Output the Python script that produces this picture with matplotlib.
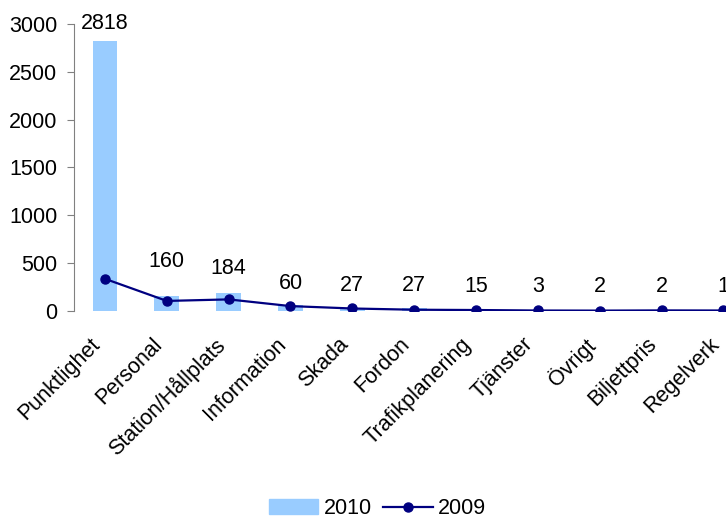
import numpy as np
import matplotlib.pyplot as plt
import matplotlib.transforms as mtransforms
from matplotlib.lines import Line2D
from matplotlib.patches import Patch

plt.rcParams['font.family'] = ['Liberation Sans', 'DejaVu Sans']

categories = ['Punktlighet', 'Personal', 'Station/Hållplats', 'Information', 'Skada',
              'Fordon', 'Trafikplanering', 'Tjänster', 'Övrigt', 'Biljettpris', 'Regelverk']
values_2010 = [2818, 160, 184, 60, 27, 27, 15, 3, 2, 2, 1]
values_2009 = [335, 104, 120, 50, 25, 12, 9, 4, 3, 5, 4]
# extra lift (pixels) for each value label above its bar
label_lift = [18, 34, 25, 22, 23, 23, 23, 24, 24, 24, 24]

bar_color = '#99CCFF'
line_color = '#000080'
fs = 15.5

fig = plt.figure(figsize=(7.26, 5.19), dpi=100)
ax = fig.add_axes([0.102, 0.401, 0.937, 0.553])
x = np.arange(len(categories))

ax.bar(x, values_2010, width=0.4, color=bar_color, zorder=1)
ax.plot(x, values_2009, color=line_color, lw=1.6, marker='o', ms=6.5, zorder=3)

for xi, v, lift in zip(x, values_2010, label_lift):
    ax.annotate(str(v), (xi, v), xytext=(0, lift * 0.72), textcoords='offset points',
                ha='center', va='center', fontsize=fs, annotation_clip=False)

ax.set_xlim(-0.5, len(categories) - 0.5)
ax.set_ylim(0, 3000)
ax.set_yticks(np.arange(0, 3001, 500))
ax.tick_params(axis='y', labelsize=fs, length=5, color='#808080', direction='out', pad=7)
ax.set_xticks(x)
ax.set_xticklabels(categories, rotation=45, ha='right', va='top', rotation_mode='anchor',
                   fontsize=fs)
ax.tick_params(axis='x', length=0, pad=10)
# nudge the slanted category names down and to the left
shift = mtransforms.ScaledTranslation(-0.15, -0.09, fig.dpi_scale_trans)
for lbl in ax.get_xticklabels():
    lbl.set_transform(lbl.get_transform() + shift)
for s in ['top', 'right', 'bottom']:
    ax.spines[s].set_visible(False)
ax.spines['left'].set_color('#808080')
ax.spines['left'].set_bounds(0, 3000)

handles = [Patch(color=bar_color, label='2010'),
           Line2D([], [], color=line_color, lw=1.6, marker='o', ms=6.5, label='2009')]
fig.legend(handles=handles, loc='center', bbox_to_anchor=(0.52, 0.02), ncol=2,
           frameon=False, fontsize=fs, handlelength=2.3, columnspacing=0.55,
           handletextpad=0.25)

fig.savefig('out.png', dpi=100)
